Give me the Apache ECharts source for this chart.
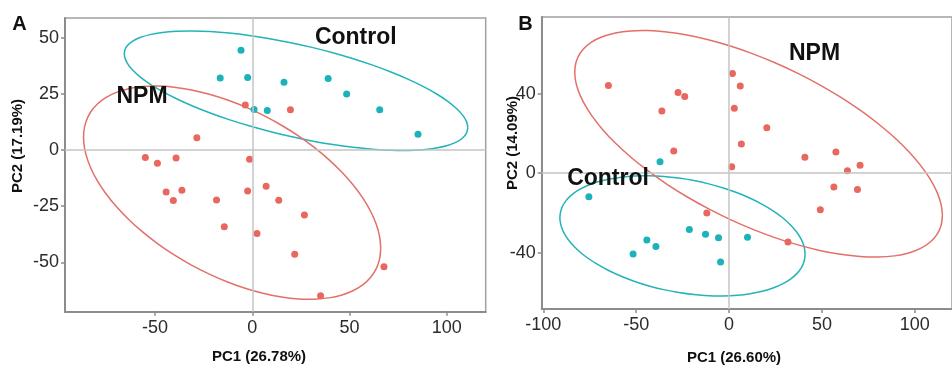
<!DOCTYPE html>
<html>
<head>
<meta charset="utf-8">
<script src="https://cdn.jsdelivr.net/npm/echarts@6/dist/echarts.min.js"></script>
<style>
html,body{margin:0;padding:0;background:#fff;}
#chart{width:952px;height:368px;}
</style>
</head>
<body>
<div id="chart"></div>
<script>
// ---- Panel A data (PC1, PC2) ----
const A_CONTROL = [[-5.8,44.4],[-16.5,32.1],[-2.4,32.3],[16.3,30.2],[39,31.9],[48.5,24.9],[65.5,17.9],[85.2,7],[0.9,18.1],[7.7,17.6]];
const A_NPM = [[-3.6,20.1],[19.6,17.9],[-28.5,5.5],[-55,-3.3],[-48.8,-5.9],[-39.2,-3.6],[-1.4,-4.1],[-44.3,-18.7],[-36.2,-17.9],[-40.6,-22.5],[-18.4,-22.2],[-2.4,-18.2],[7.1,-16.1],[13.6,-22.4],[26.8,-28.9],[-14.4,-34.2],[2.4,-37.2],[21.8,-46.4],[67.7,-52],[35.1,-64.9]];
// ---- Panel B data ----
const B_CONTROL = [[-37.2,5.8],[-75.5,-11.9],[-21.4,-28.3],[-12.7,-30.8],[-5.7,-32.5],[9.9,-32.2],[-44.3,-33.7],[-39.4,-36.9],[-51.7,-40.7],[-4.6,-44.7]];
const B_NPM = [[-65,44.2],[-27.5,40.7],[-23.9,38.7],[-36.2,31.3],[-29.8,11.2],[1.8,50.3],[6,43.9],[2.8,32.7],[20.3,22.9],[6.6,14.7],[1.4,3.3],[40.8,8],[57.5,10.7],[70.5,4],[63.7,1.3],[56.4,-6.9],[69.1,-8.2],[49.1,-18.4],[-12,-20.1],[31.7,-34.7]];
// ---- ticks / labels ----
const A_X_TICKS = [-50,0,50,100];
const A_Y_TICKS = [-50,-25,0,25,50];
const B_X_TICKS = [-100,-50,0,50,100];
const B_Y_TICKS = [-40,0,40];
const A_X_NAME = 'PC1 (26.78%)', A_Y_NAME = 'PC2 (17.19%)';
const B_X_NAME = 'PC1 (26.60%)', B_Y_NAME = 'PC2 (14.09%)';
const A_GROUP_LABELS = [['Control',53.2,50],['NPM',-56.7,23.7]];
const B_GROUP_LABELS = [['NPM',46,60.1],['Control',-65.2,-2.9]];

const RED = '#E8675F', TEAL = '#1BB3B9';
const RED_LINE = '#E27068', TEAL_LINE = '#22B4B8';
const FONT = 'Liberation Sans, Arial, sans-serif';
// 95% level, F quantiles qf(0.95, 2, n-1) (as in ggplot2::stat_ellipse, type "t")
const QF95 = {9: 4.2565, 19: 3.5219};

// Robust multivariate-t covariance (MASS::cov.trob, nu = 5)
function covTrob(x){
  const n=x.length, p=2, nu=5;
  let loc=[0,0]; x.forEach(v=>{loc[0]+=v[0]/n; loc[1]+=v[1]/n;});
  let w=new Array(n).fill(1);
  let X=null;
  for(let it=0; it<25; it++){
    const w0=w.slice();
    X=x.map(v=>[v[0]-loc[0], v[1]-loc[1]]);
    const sw=w.reduce((a,b)=>a+b,0);
    let s11=0,s12=0,s22=0;
    X.forEach((d,i)=>{const f=w[i]/sw; s11+=f*d[0]*d[0]; s12+=f*d[0]*d[1]; s22+=f*d[1]*d[1];});
    const det=s11*s22-s12*s12;
    const Q=X.map(d=>(s22*d[0]*d[0]-2*s12*d[0]*d[1]+s11*d[1]*d[1])/det);
    w=Q.map(q=>(nu+p)/(nu+q));
    const sw2=w.reduce((a,b)=>a+b,0);
    loc=[0,0]; x.forEach((v,i)=>{loc[0]+=w[i]*v[0]/sw2; loc[1]+=w[i]*v[1]/sw2;});
    if(w.every((wi,i)=>Math.abs(wi-w0[i])<0.01)) break;
  }
  let c11=0,c12=0,c22=0;
  X.forEach((d,i)=>{c11+=w[i]*d[0]*d[0]/n; c12+=w[i]*d[0]*d[1]/n; c22+=w[i]*d[1]*d[1]/n;});
  return {center:loc, cov:[[c11,c12],[c12,c22]]};
}
function ellipse(points){
  const r=covTrob(points);
  const c=r.cov;
  const r11=Math.sqrt(c[0][0]), r12=c[0][1]/r11, r22=Math.sqrt(c[1][1]-r12*r12);
  const radius=Math.sqrt(2*QF95[points.length-1]);
  const out=[];
  for(let i=0;i<=51;i++){
    const t=i/51*2*Math.PI, ct=Math.cos(t), st=Math.sin(t);
    out.push([r.center[0]+radius*ct*r11, r.center[1]+radius*(ct*r12+st*r22)]);
  }
  return out;
}

function ellipseSeries(points, color, gi){
  return {
    type:'custom', xAxisIndex:gi, yAxisIndex:gi, data:points, silent:true, z:2,
    renderItem:function(params, api){
      if(params.dataIndex!==0) return null;
      const pts = ellipse(points).map(p=>api.coord(p));
      return {type:'polyline', shape:{points:pts, smooth:0.3}, style:{fill:null, stroke:color, lineWidth:1.5}};
    }
  };
}
function pointSeries(points, color, gi){
  return {type:'scatter', xAxisIndex:gi, yAxisIndex:gi, data:points, symbolSize:7,
    itemStyle:{color:color, opacity:1}, z:3, silent:true};
}
function zeroLines(gi){
  return {type:'scatter', xAxisIndex:gi, yAxisIndex:gi, data:[], z:1, silent:true,
    markLine:{silent:true, symbol:['none','none'], label:{show:false},
      lineStyle:{color:'#c4c4c4', type:'solid', width:1.5},
      data:[{xAxis:0},{yAxis:0}]}};
}
function xAxis(gi,min,max,ticks){
  return {type:'value', gridIndex:gi, min:min, max:max,
    axisLine:{show:true, onZero:false, lineStyle:{color:'#8c8c8c', width:2}},
    axisTick:{show:true, length:4, customValues:ticks, lineStyle:{color:'#8c8c8c', width:1.5}},
    axisLabel:{customValues:ticks, fontSize:18, color:'#2b2b2b', fontFamily:FONT, margin:7},
    splitLine:{show:false}};
}
function yAxis(gi,min,max,ticks){
  return {type:'value', gridIndex:gi, min:min, max:max,
    axisLine:{show:true, onZero:false, lineStyle:{color:'#8c8c8c', width:2}},
    axisTick:{show:true, length:4, customValues:ticks, lineStyle:{color:'#8c8c8c', width:1.5}},
    axisLabel:{customValues:ticks, fontSize:18, color:'#2b2b2b', fontFamily:FONT, margin:6},
    splitLine:{show:false}};
}

const chart = echarts.init(document.getElementById('chart'), null, {renderer:'canvas'});
chart.setOption({
  animation:false,
  backgroundColor:'#fff',
  grid:[
    {left:65, top:18, width:420.7, height:293.7, show:true, borderColor:'#a0a0a0', borderWidth:1.5, backgroundColor:'transparent'},
    {left:541.7, top:17, width:413.3, height:292, show:true, borderColor:'#a0a0a0', borderWidth:1.5, backgroundColor:'transparent'}
  ],
  xAxis:[xAxis(0,-96.3,120,A_X_TICKS), xAxis(1,-100.9,120,B_X_TICKS)],
  yAxis:[yAxis(0,-72,58.8,A_Y_TICKS), yAxis(1,-68.4,78.7,B_Y_TICKS)],
  series:[
    zeroLines(0), zeroLines(1),
    ellipseSeries(A_CONTROL, TEAL_LINE, 0), ellipseSeries(A_NPM, RED_LINE, 0),
    ellipseSeries(B_CONTROL, TEAL_LINE, 1), ellipseSeries(B_NPM, RED_LINE, 1),
    pointSeries(A_CONTROL, TEAL, 0), pointSeries(A_NPM, RED, 0),
    pointSeries(B_CONTROL, TEAL, 1), pointSeries(B_NPM, RED, 1)
  ]
});

const graphics = [];
function addText(text, x, y, size, bold, rot){
  graphics.push({type:'text', x:x, y:y, rotation:rot||0, z:10,
    style:{text:text, fill:'#111', font:(bold?'bold ':'')+size+'px '+FONT, textAlign:'center', textVerticalAlign:'middle'}});
}
A_GROUP_LABELS.forEach(g=>{const p=chart.convertToPixel({gridIndex:0},[g[1],g[2]]); addText(g[0],p[0],p[1],23,true);});
B_GROUP_LABELS.forEach(g=>{const p=chart.convertToPixel({gridIndex:1},[g[1],g[2]]); addText(g[0],p[0],p[1],23,true);});
addText('A',19.5,24,20,true);
addText('B',525.5,24,20,true);
addText(A_X_NAME,259,357,15,true);
addText(B_X_NAME,734,358,15,true);
addText(A_Y_NAME,18,146,15,true,Math.PI/2);
addText(B_Y_NAME,513,143,15,true,Math.PI/2);
chart.setOption({graphic:graphics});
</script>
</body>
</html>
